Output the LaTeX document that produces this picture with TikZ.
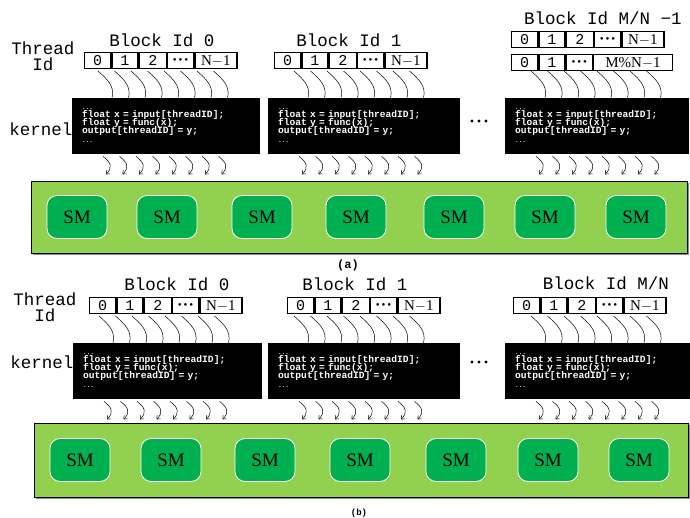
\documentclass[tikz,border=0pt]{standalone}
\usepackage{fontspec}
\setmainfont{Liberation Serif}
\setmonofont{Liberation Mono}
\usetikzlibrary{arrows.meta, positioning, calc, shadows}
\usepackage{xcolor}

\definecolor{boardgreen}{HTML}{92D050}
\definecolor{smgreen}{HTML}{00B050}

\newcommand{\codefont}{\ttfamily\bfseries\fontsize{9.6}{8.3}\selectfont\lineskiplimit=-20pt\relax}

\tikzset{
  cell/.style={draw, line width=1.3pt, minimum height=16, inner sep=0pt, font=\fontsize{15}{15}\selectfont\ttfamily},
  lastcell/.style={cell, font=\fontsize{15}{15}\selectfont\rmfamily},
  blocklabel/.style={font=\fontsize{17.5}{17.5}\selectfont\ttfamily},
  sidelabel/.style={align=center, font=\fontsize{17.5}{16}\selectfont\ttfamily},
  kernelbox/.style={fill=black, anchor=north west, minimum height=56, inner sep=0pt},
  code/.style={text=white, text width=172, align=left, inner sep=0pt, font=\codefont},
  board/.style={draw, line width=0.8pt, fill=boardgreen, anchor=north west, inner sep=0pt,
    drop shadow={shadow xshift=1.5pt, shadow yshift=-1.5pt, fill=black!45, opacity=1}},
  smbox/.style={fill=smgreen, draw=white, line width=0.8pt, rounded corners=10, minimum width=60,
    minimum height=43, font=\fontsize{19}{19}\selectfont},
  wave/.style={line width=0.5pt},
  drop/.style={line width=0.5pt, -{Straight Barb[length=3pt, width=5pt]}},
}

\newcommand{\kernelcode}{{\fontsize{6}{8}\selectfont...}\\float x = input[threadID];\\float y = func(x);\\output[threadID] = y;\\{\fontsize{6}{8}\selectfont...}}
\newcommand{\threaddots}{{\fontsize{11}{11}\selectfont\rmfamily\textbullet\,\textbullet\,\textbullet}}

\begin{document}
\begin{tikzpicture}[x=1pt, y=-1pt]
  \useasboundingbox (0,0) rectangle (690,517);

  % thread id rows, one per block
  \foreach \name/\x/\y in {a0/84/52, a1/274/52, a2/511/31, b0/89/297, b1/287/297, b2/513/297} {
    \node[cell, minimum width=26, anchor=north west] (\name t0) at (\x,\y) {0};
    \node[cell, minimum width=26, right=0pt of \name t0] (\name t1) {1};
    \node[cell, minimum width=27, right=0pt of \name t1] (\name t2) {2};
    \node[cell, minimum width=26, right=0pt of \name t2] (\name t3) {\threaddots};
    \node[lastcell, minimum width=42, right=0pt of \name t3] (\name t4) {N$-$1};
  }
  % last block only partly filled
  \node[cell, minimum width=26, anchor=north west] (a2r0) at (511,54) {0};
  \node[cell, minimum width=26, right=0pt of a2r0] (a2r1) {1};
  \node[cell, minimum width=26, right=0pt of a2r1] (a2r2) {\threaddots};
  \node[lastcell, minimum width=79, right=0pt of a2r2] (a2r3) {M\%N$-$1};

  % block labels
  \node[blocklabel] (a0lab) at (162,40) {Block Id 0};
  \node[blocklabel] (a1lab) at (349,40) {Block Id 1};
  \node[blocklabel] (a2lab) at (603,18) {Block Id M/N −1};
  \node[blocklabel] (b0lab) at (177,284) {Block Id 0};
  \node[blocklabel] (b1lab) at (355,284) {Block Id 1};
  \node[blocklabel] (b2lab) at (606,283) {Block Id M/N};

  \node[sidelabel] (athread) at (43,56) {Thread\\Id};
  \node[sidelabel] (bthread) at (45,307) {Thread\\Id};
  \node[sidelabel] (akern) at (41,129) {kernel};
  \node[sidelabel] (bkern) at (42,362) {kernel};

  % kernels
  \node[kernelbox, minimum width=188] (a0k) at (72,98) {};
  \node[kernelbox, minimum width=192] (a1k) at (268,98) {};
  \node[kernelbox, minimum width=184] (a2k) at (505,98) {};
  \node[kernelbox, minimum width=189] (b0k) at (73,343) {};
  \node[kernelbox, minimum width=192] (b1k) at (268,343) {};
  \node[kernelbox, minimum width=185] (b2k) at (505,343) {};
  \foreach \k in {a0k,a1k,a2k,b0k,b1k,b2k}
    \node[code, anchor=west] (\k code) at ($(\k.west)+(10,-1)$) {\kernelcode};

  \foreach \d in {472,479,486} {
    \fill (\d,121) circle (1.7);
    \fill (\d,362) circle (1.7);
  }

  % threads into and out of each kernel
  \foreach \k in {a0k,a1k,a2k,b0k,b1k,b2k} {
    \foreach \i in {0,...,7} {
      \draw[wave] ($(\k.north west)+(26+16.5*\i,-27)$) .. controls +(9,8) and +(3,-12) .. ($(\k.north west)+(40+16.5*\i,0)$);
      \draw[drop] ($(\k.south west)+(31+16.5*\i,2)$) .. controls +(8,6) and +(7,-7) .. ($(\k.south west)+(34+16.5*\i,20)$);
    }
  }

  % GPU boards with streaming multiprocessors
  \node[board, minimum width=656, minimum height=72] (aboard) at (31,181) {};
  \foreach \x [count=\n] in {77,167,262,356,454,545,636}
    \node[smbox] (asm\n) at (\x,217) {SM};
  \node[font=\fontsize{12}{12}\selectfont\ttfamily\bfseries] (acap) at (348,265) {(a)};

  \node[board, minimum width=654, minimum height=74] (bboard) at (34,423) {};
  \foreach \x [count=\n] in {80,171,265,360,456,548,639}
    \node[smbox] (bsm\n) at (\x,460) {SM};
  \node[font=\fontsize{9}{9}\selectfont\ttfamily\bfseries] (bcap) at (359,513) {(b)};
\end{tikzpicture}
\end{document}
